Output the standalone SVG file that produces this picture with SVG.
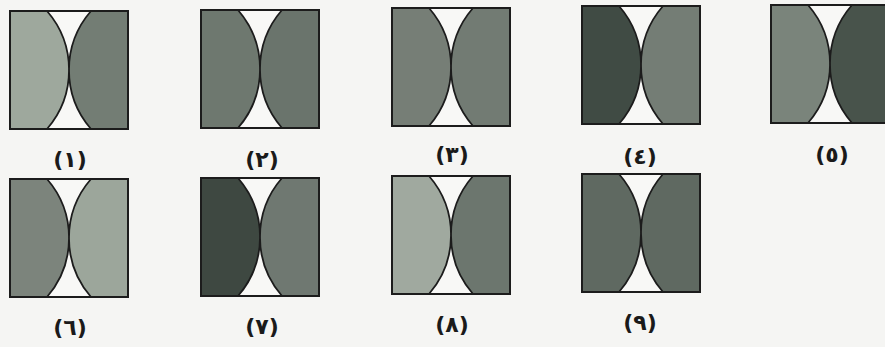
<svg xmlns="http://www.w3.org/2000/svg" width="885" height="347" viewBox="0 0 885 347">
<style>
.bg{fill:#f5f5f3}
.gap{fill:#f8f8f6}
.edge{fill:none;stroke:#1c1c1c;stroke-width:2}
.arc{fill:none;stroke:#1c1c1c;stroke-width:1.8}
.lbl{font-family:"DejaVu Sans",sans-serif;font-weight:bold;font-size:22px;fill:#1a1a1a;text-anchor:middle;letter-spacing:-1px}
</style>
<defs>
<path id="lensL" d="M0,0 H37 A90,90 0 0 1 37,118 H0 Z"/>
<path id="lensR" d="M118,0 H81 A90,90 0 0 0 81,118 H118 Z"/>
<path id="arcs" d="M37,0 A90,90 0 0 1 37,118 M81,0 A90,90 0 0 0 81,118"/>
</defs>
<rect class="bg" x="0" y="0" width="885" height="347"/>

<g id="tile1" transform="translate(10,11)">
<rect class="gap" width="118" height="118"/>
<use href="#lensL" fill="#9ea89d"/>
<use href="#lensR" fill="#737d74"/>
<use href="#arcs" class="arc"/>
<rect class="edge" width="118" height="118"/>
</g>
<g id="tile2" transform="translate(201,10)">
<rect class="gap" width="118" height="118"/>
<use href="#lensL" fill="#6e786f"/>
<use href="#lensR" fill="#6a746c"/>
<use href="#arcs" class="arc"/>
<rect class="edge" width="118" height="118"/>
</g>
<g id="tile3" transform="translate(392,8)">
<rect class="gap" width="118" height="118"/>
<use href="#lensL" fill="#767e76"/>
<use href="#lensR" fill="#727b73"/>
<use href="#arcs" class="arc"/>
<rect class="edge" width="118" height="118"/>
</g>
<g id="tile4" transform="translate(582,6)">
<rect class="gap" width="118" height="118"/>
<use href="#lensL" fill="#404b44"/>
<use href="#lensR" fill="#747d75"/>
<use href="#arcs" class="arc"/>
<rect class="edge" width="118" height="118"/>
</g>
<g id="tile5" transform="translate(771,5)">
<rect class="gap" width="118" height="118"/>
<use href="#lensL" fill="#7a847b"/>
<use href="#lensR" fill="#48534b"/>
<use href="#arcs" class="arc"/>
<rect class="edge" width="118" height="118"/>
</g>
<g id="tile6" transform="translate(10,179)">
<rect class="gap" width="118" height="118"/>
<use href="#lensL" fill="#7c847c"/>
<use href="#lensR" fill="#9ca69b"/>
<use href="#arcs" class="arc"/>
<rect class="edge" width="118" height="118"/>
</g>
<g id="tile7" transform="translate(201,178)">
<rect class="gap" width="118" height="118"/>
<use href="#lensL" fill="#3e4841"/>
<use href="#lensR" fill="#6f7871"/>
<use href="#arcs" class="arc"/>
<rect class="edge" width="118" height="118"/>
</g>
<g id="tile8" transform="translate(392,176)">
<rect class="gap" width="118" height="118"/>
<use href="#lensL" fill="#a0a99f"/>
<use href="#lensR" fill="#6c766e"/>
<use href="#arcs" class="arc"/>
<rect class="edge" width="118" height="118"/>
</g>
<g id="tile9" transform="translate(582,174)">
<rect class="gap" width="118" height="118"/>
<use href="#lensL" fill="#5f6961"/>
<use href="#lensR" fill="#5f6961"/>
<use href="#arcs" class="arc"/>
<rect class="edge" width="118" height="118"/>
</g>

<g id="labels">
<text class="lbl" x="70" y="167">(١)</text>
<text class="lbl" x="262" y="167">(٢)</text>
<text class="lbl" x="452" y="162">(٣)</text>
<text class="lbl" x="640" y="164">(٤)</text>
<text class="lbl" x="832" y="162">(٥)</text>
<text class="lbl" x="70" y="335">(٦)</text>
<text class="lbl" x="262" y="334">(٧)</text>
<text class="lbl" x="452" y="332">(٨)</text>
<text class="lbl" x="640" y="330">(٩)</text>
</g>
</svg>
